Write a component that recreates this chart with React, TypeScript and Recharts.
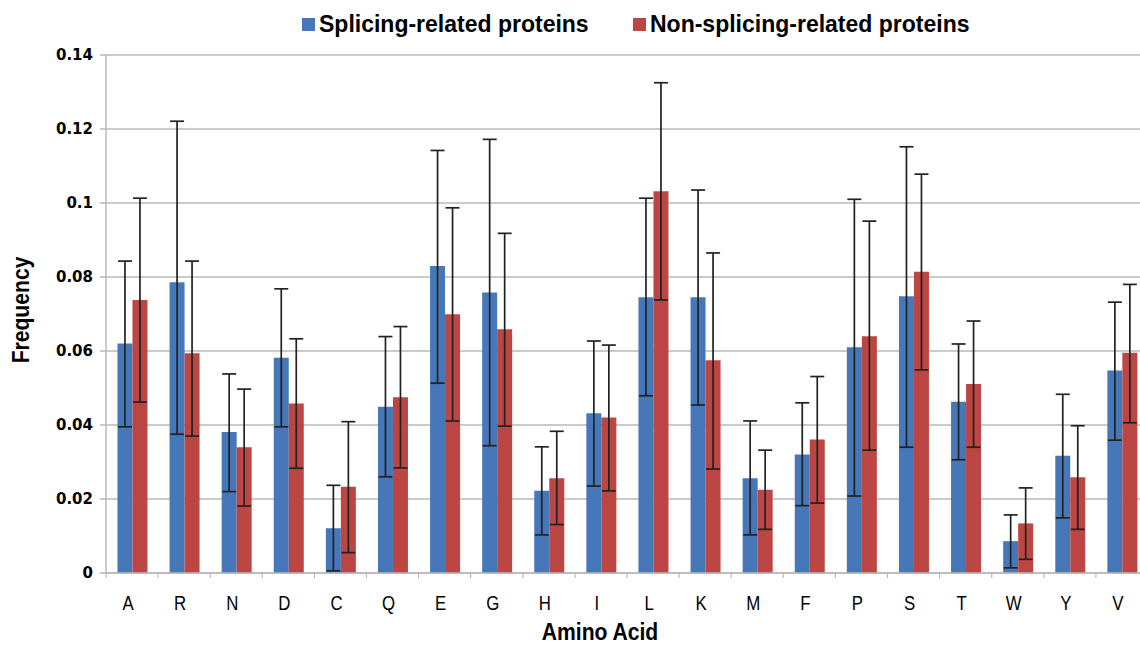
import React from 'react';
import { BarChart, Bar, XAxis, YAxis, CartesianGrid, ErrorBar } from 'recharts';

const categories = ['A', 'R', 'N', 'D', 'C', 'Q', 'E', 'G', 'H', 'I', 'L', 'K', 'M', 'F', 'P', 'S', 'T', 'W', 'Y', 'V'];

const splicing = [0.062, 0.0786, 0.0381, 0.0582, 0.0121, 0.0449, 0.083, 0.0758, 0.0222, 0.0432, 0.0745, 0.0745, 0.0256, 0.032, 0.061, 0.0748, 0.0463, 0.0086, 0.0317, 0.0547];
const splicingLow = [0.0395, 0.0375, 0.022, 0.0395, 0.0006, 0.026, 0.0513, 0.0344, 0.0103, 0.0235, 0.0479, 0.0454, 0.0103, 0.0182, 0.0208, 0.034, 0.0306, 0.0014, 0.0149, 0.0359];
const splicingHigh = [0.0843, 0.1221, 0.0538, 0.0768, 0.0237, 0.0639, 0.1142, 0.1172, 0.0341, 0.0627, 0.1013, 0.1035, 0.0411, 0.046, 0.101, 0.1152, 0.0619, 0.0157, 0.0483, 0.0732];

const nonSplicing = [0.0738, 0.0594, 0.034, 0.0458, 0.0233, 0.0475, 0.0699, 0.0659, 0.0256, 0.042, 0.1032, 0.0575, 0.0225, 0.0361, 0.064, 0.0814, 0.0511, 0.0134, 0.0259, 0.0595];
const nonSplicingLow = [0.0462, 0.037, 0.0181, 0.0283, 0.0055, 0.0284, 0.0411, 0.0397, 0.0131, 0.0222, 0.0738, 0.0281, 0.0118, 0.0189, 0.0332, 0.0549, 0.034, 0.0037, 0.0118, 0.0406];
const nonSplicingHigh = [0.1013, 0.0843, 0.0497, 0.0633, 0.0409, 0.0666, 0.0987, 0.0918, 0.0383, 0.0616, 0.1325, 0.0865, 0.0332, 0.0531, 0.0951, 0.1078, 0.0681, 0.023, 0.0398, 0.078];

const yTicks = [0, 0.02, 0.04, 0.06, 0.08, 0.1, 0.12, 0.14];
const yTickLabels = ['0', '0.02', '0.04', '0.06', '0.08', '0.1', '0.12', '0.14'];

const seriesNames = ['Splicing-related proteins', 'Non-splicing-related proteins'];
const xTitle = 'Amino Acid';
const yTitle = 'Frequency';

const BLUE = '#4677b9';
const RED = '#bc4643';
const GRID = '#b9b9b9';

const data = categories.map((c, i) => ({
  name: c,
  s: splicing[i],
  sErr: [splicing[i] - splicingLow[i], splicingHigh[i] - splicing[i]],
  n: nonSplicing[i],
  nErr: [nonSplicing[i] - nonSplicingLow[i], nonSplicingHigh[i] - nonSplicing[i]],
}));

const CHART_W = 1150;
const CHART_H = 645;
const MARGIN = { top: 55, right: 2, bottom: 32, left: 46 };
const Y_AXIS_W = 60;
const X_AXIS_H = 40;
const PLOT_W = CHART_W - MARGIN.left - MARGIN.right - Y_AXIS_W;
const BAND = PLOT_W / categories.length;

const FONT = "'Liberation Sans', Arial, sans-serif";

const XTick = (props: any) => {
  const { x, y, payload } = props;
  return (
    <g>
      <line x1={x - BAND / 2} x2={x - BAND / 2} y1={y} y2={y + 5} stroke={GRID} strokeWidth={1.2} />
      <text
        transform={`translate(${x - 4} ${y + 37}) scale(0.8 1)`}
        textAnchor="middle"
        fill="#000"
        style={{ fontFamily: FONT, fontSize: 21 }}
      >
        {payload.value}
      </text>
    </g>
  );
};

const XTitle = () => (
  <text
    transform="translate(600 640) scale(0.88 1)"
    textAnchor="middle"
    fill="#000"
    style={{ fontFamily: FONT, fontSize: 24, fontWeight: 'bold' }}
  >
    {xTitle}
  </text>
);

const YTitle = () => (
  <text
    transform="translate(29 310) rotate(-90) scale(0.88 1)"
    textAnchor="middle"
    fill="#000"
    style={{ fontFamily: FONT, fontSize: 24, fontWeight: 'bold' }}
  >
    {yTitle}
  </text>
);

const legendFont: React.CSSProperties = {
  fontFamily: FONT,
  fontSize: 23,
  fontWeight: 'bold',
  color: '#000',
  position: 'absolute',
  top: 10,
  lineHeight: '28px',
  whiteSpace: 'nowrap',
};

export default function App() {
  return (
    <div style={{ position: 'absolute', left: 0, top: 0, width: 1140, height: 645, overflow: 'hidden', background: '#fff' }}>
      <div style={{ position: 'absolute', left: 302, top: 18, width: 13, height: 13, background: BLUE }} />
      <div style={{ ...legendFont, left: 319 }}>{seriesNames[0]}</div>
      <div style={{ position: 'absolute', left: 633, top: 18, width: 13, height: 13, background: RED }} />
      <div style={{ ...legendFont, left: 650 }}>{seriesNames[1]}</div>
      <BarChart
        width={CHART_W}
        height={CHART_H}
        data={data}
        margin={MARGIN}
        barCategoryGap="22%"
        barGap={0}
        style={{ position: 'absolute', left: 0, top: 0 }}
      >
        <CartesianGrid vertical={false} stroke={GRID} strokeWidth={1.5} />
        <XAxis
          dataKey="name"
          height={X_AXIS_H}
          tickLine={false}
          tickSize={0}
          tickMargin={0}
          interval={0}
          axisLine={{ stroke: GRID, strokeWidth: 1.5 }}
          tick={<XTick />}
          label={<XTitle />}
        />
        <YAxis
          width={Y_AXIS_W}
          domain={[0, 0.14]}
          ticks={yTicks}
          interval={0}
          tickFormatter={(v: number) => yTickLabels[yTicks.indexOf(v)] ?? String(v)}
          axisLine={{ stroke: GRID, strokeWidth: 1.5 }}
          tickLine={{ stroke: GRID, strokeWidth: 1.5 }}
          tickSize={6}
          tickMargin={7}
          tick={{ fill: '#000', fontFamily: "'DejaVu Sans', sans-serif", fontSize: 15, fontWeight: 'bold' }}
          label={<YTitle />}
        />
        <Bar dataKey="s" fill={BLUE} isAnimationActive={false}>
          <ErrorBar dataKey="sErr" width={7} stroke="#222" strokeWidth={1.7} direction="y" />
        </Bar>
        <Bar dataKey="n" fill={RED} isAnimationActive={false}>
          <ErrorBar dataKey="nErr" width={7} stroke="#222" strokeWidth={1.7} direction="y" />
        </Bar>
      </BarChart>
    </div>
  );
}
